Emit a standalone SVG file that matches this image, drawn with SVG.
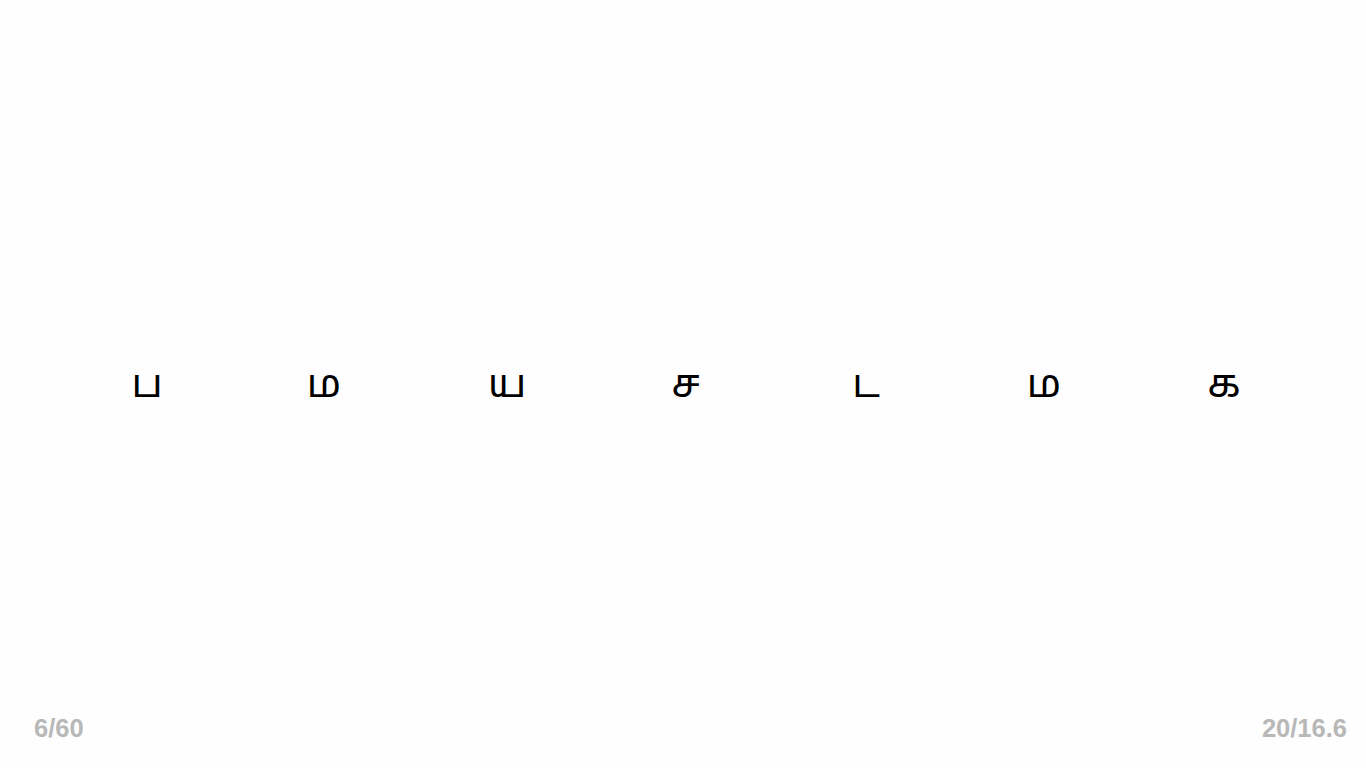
<svg xmlns="http://www.w3.org/2000/svg" width="1366" height="768" viewBox="0 0 1366 768">
<style>
.l{font-family:"Noto Sans Tamil","Noto Sans","Liberation Sans",sans-serif;font-size:40px;fill:#000;text-anchor:middle}
.f{font-family:"Liberation Sans",Arial,sans-serif;font-size:25.5px;font-weight:bold;fill:#b8b8b8}
</style>
<rect width="1366" height="768" fill="#fefefe"/>
<g id="letters">
<text id="n1" class="l" x="147" y="397">ப</text>
<text id="n2" class="l" x="324" y="397">ம</text>
<text id="n3" class="l" x="507" y="397">ய</text>
<text id="n4" class="l" x="686" y="397">ச</text>
<text id="n5" class="l" x="866" y="397">ட</text>
<text id="n6" class="l" x="1044" y="397">ம</text>
<text id="n7" class="l" x="1224" y="397">க</text>
</g>
<g id="connectors"/>
<text class="f" x="34" y="737">6/60</text>
<text class="f" x="1347" y="737" text-anchor="end">20/16.6</text>
</svg>
